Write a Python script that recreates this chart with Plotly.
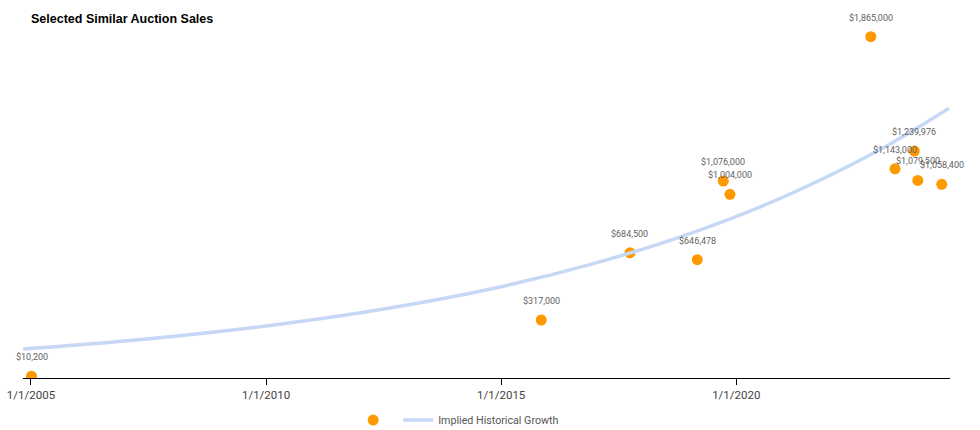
import plotly.graph_objects as go

# Auction sales
sale_dates = [
    "2005-01-05", "2015-11-08", "2017-09-27", "2019-03-04", "2019-09-22",
    "2019-11-13", "2022-11-11", "2023-05-18", "2023-10-15", "2023-11-11",
    "2024-05-15",
]
sale_prices = [
    10200, 317000, 684500, 646478, 1076000,
    1004000, 1865000, 1143000, 1239976, 1079500,
    1058400,
]

# Implied growth trendline, values read at points along the curve
trend_dates = [
    "2004-11-01", "2007-01-01", "2009-01-01", "2011-01-01", "2013-01-01",
    "2015-01-01", "2017-01-01", "2019-01-01", "2021-01-01", "2023-01-01",
    "2024-07-10",
]
trend_values = [
    158000, 202000, 254000, 318000, 399000,
    499000, 628000, 788000, 989000, 1240000,
    1474000,
]

tick_vals = ["2005-01-01", "2010-01-01", "2015-01-01", "2020-01-01"]
tick_text = ["1/1/2005", "1/1/2010", "1/1/2015", "1/1/2020"]

ORANGE = "#ff9900"
TREND = "#c6d8f5"
LABEL = "#5f5f5f"

fig = go.Figure()

fig.add_trace(go.Scatter(
    x=sale_dates,
    y=sale_prices,
    mode="markers",
    name="",
    marker=dict(color=ORANGE, size=11),
    hovertemplate="%{x}<br>$%{y:,.0f}<extra></extra>",
))

fig.add_trace(go.Scatter(
    x=trend_dates,
    y=trend_values,
    mode="lines",
    name="Implied Historical Growth",
    line=dict(color=TREND, width=3.5, shape="spline"),
    hoverinfo="skip",
))

# Price labels above each sale
for d, p in zip(sale_dates, sale_prices):
    fig.add_annotation(
        x=d, y=p, text=f"${p:,.0f}", showarrow=False, yshift=19,
        font=dict(family="Roboto", size=9, color=LABEL),
    )

fig.update_layout(
    width=980,
    height=430,
    margin=dict(l=23, r=30, t=12, b=52, autoexpand=False),
    paper_bgcolor="white",
    plot_bgcolor="white",
    showlegend=True,
    title=dict(
        text="<b>Selected Similar Auction Sales</b>",
        font=dict(family="Arial", size=12.5, color="black"),
        xref="container", yref="container",
        x=31 / 980, xanchor="left",
        y=1 - 19 / 430, yanchor="middle",
    ),
    xaxis=dict(
        range=["2004-10-31", "2024-07-18"],
        tickvals=tick_vals,
        ticktext=tick_text,
        ticks="outside",
        ticklen=6,
        tickcolor="black",
        showline=True,
        linecolor="black",
        linewidth=1,
        showgrid=False,
        zeroline=False,
        automargin=False,
        tickfont=dict(family="Roboto", size=11.5, color="#444444"),
    ),
    yaxis=dict(
        range=[0, 2000000],
        visible=False,
        showgrid=False,
        zeroline=False,
    ),
    legend=dict(
        orientation="h",
        x=0.47, xanchor="center",
        y=-0.115, yanchor="middle",
        font=dict(family="Roboto", size=10.7, color="#555555"),
        itemwidth=30,
    ),
)

# drop the default page margin so the figure sits at the window's corner
fig.write_html(
    "out.html",
    config={"displayModeBar": False},
    post_script="document.body.style.margin='0';",
)
